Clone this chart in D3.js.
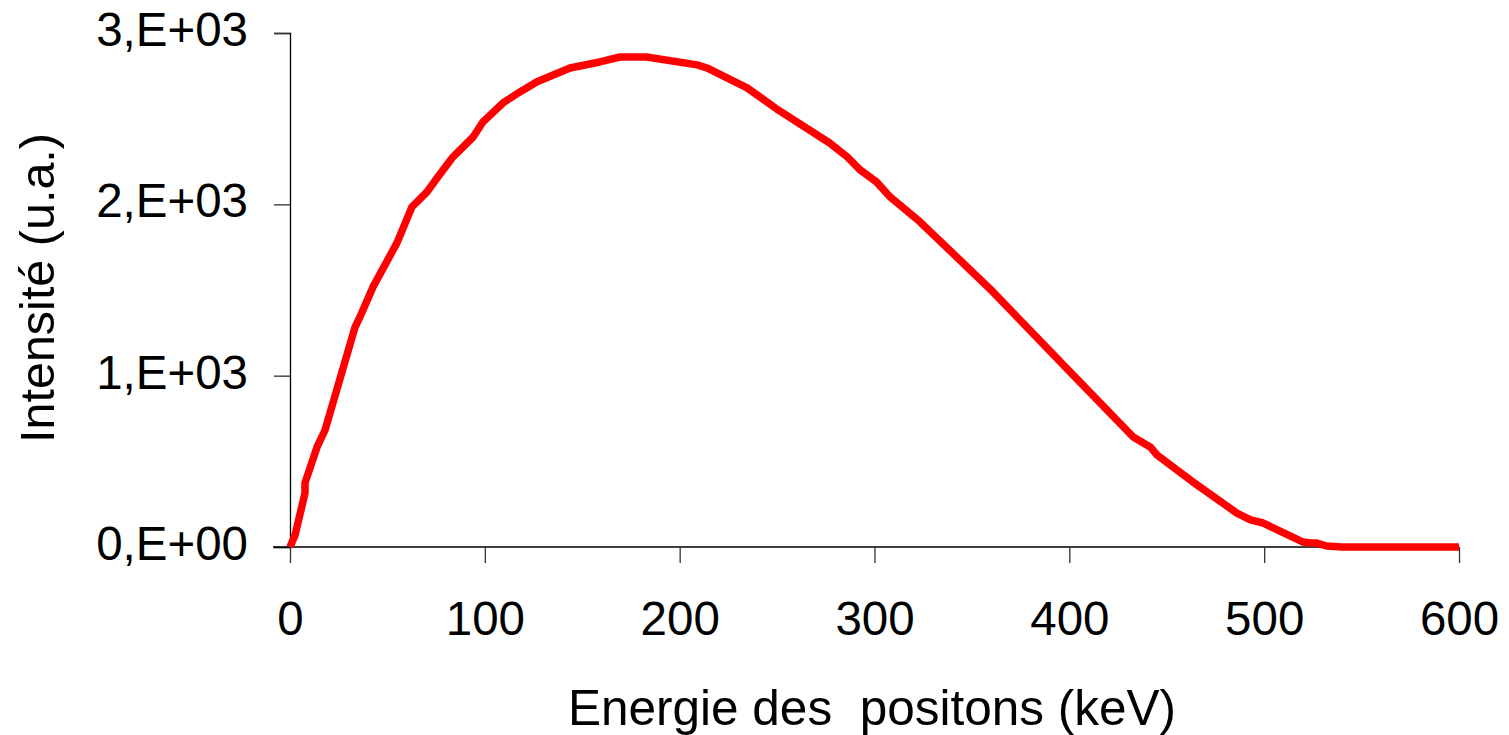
<!DOCTYPE html>
<html>
<head>
<meta charset="utf-8">
<script src="https://cdn.jsdelivr.net/npm/d3@7"></script>
<style>
  body { margin: 0; background: #fff; }
  text { font-family: "Liberation Sans", Arial, sans-serif; fill: #000; }
</style>
</head>
<body>
<div id="chart"></div>
<script>
// positron energy spectrum
var energy = [0, 2.6, 7.7, 7.7, 13.9, 18, 33.4, 35.9, 42.6, 54.9, 62.6, 65.2, 70.3, 75.5, 83.2, 94,
  99, 109.3, 118, 126.8, 143.7, 159, 169.4, 183, 209, 214, 234.6, 250.5, 277, 286, 292.6, 301,
  308, 323.4, 359.3, 400, 432.8, 441.5, 445, 463.5, 486, 493, 499.5, 510, 520, 524, 527, 532, 540, 600];
var intensity = [0, 70, 315, 374, 584, 683, 1284, 1343, 1518, 1775, 1985, 2014, 2072, 2154, 2271, 2393,
  2481, 2592, 2656, 2715, 2796, 2831, 2860, 2860, 2814, 2796, 2680, 2551, 2358, 2277, 2201, 2131,
  2043, 1897, 1506, 1027, 642, 584, 537, 379, 198, 158, 140, 82, 29, 23, 23, 6, 0, 0];

var xTicks = [0, 100, 200, 300, 400, 500, 600];
var yTicks = [0, 1000, 2000, 3000];
var yTickLabels = ["0,E+00", "1,E+03", "2,E+03", "3,E+03"];

var width = 1509,
    height = 735;

var svg = d3.select("#chart").append("svg")
    .attr("width", width)
    .attr("height", height);

var x = d3.scaleLinear().domain([0, 600]).range([290, 1459]);
var y = d3.scaleLinear().domain([0, 3000]).range([547, 33]);

// y axis
var yAxis = svg.append("g")
    .attr("transform", "translate(" + x(0) + ",0)")
    .call(d3.axisLeft(y).tickValues(yTicks).tickSize(16).tickPadding(26)
      .tickFormat(function(d, i) { return yTickLabels[i]; }));

// x axis
var xAxis = svg.append("g")
    .attr("transform", "translate(0," + y(0) + ")")
    .call(d3.axisBottom(x).tickValues(xTicks).tickSize(16).tickPadding(38)
      .tickFormat(d3.format("d")));

svg.selectAll(".domain").attr("stroke", "#000").attr("stroke-width", 1.3);
svg.selectAll(".tick line").attr("stroke", "#333").attr("stroke-width", 1.3);
svg.selectAll(".tick text").attr("font-size", 47.5)
    .attr("font-family", "Liberation Sans, Arial, sans-serif")
    .attr("fill", "#000");
yAxis.selectAll(".tick text").attr("dy", "0.26em");
xAxis.selectAll(".tick text").attr("dy", "0.71em");
// extend x axis line under the y ticks
xAxis.select(".domain").attr("d", "M273,0H" + x(600));

// axis titles
svg.append("text")
    .attr("x", 872)
    .attr("y", 725)
    .attr("text-anchor", "middle")
    .attr("font-size", 49.5)
    .attr("xml:space", "preserve")
    .style("white-space", "pre")
    .text("Energie des  positons (keV)");

svg.append("text")
    .attr("transform", "translate(54,288) rotate(-90)")
    .attr("text-anchor", "middle")
    .attr("font-size", 48.5)
    .text("Intensité (u.a.)");

var points = energy.map(function(e, i) { return {x: e, y: intensity[i]}; });

var lineFunction = d3.line()
    .x(function(d) { return x(d.x); })
    .y(function(d) { return y(d.y); });

svg.append("path")
    .attr("d", lineFunction(points))
    .attr("stroke", "#ff0000")
    .attr("stroke-width", 7.5)
    .attr("stroke-linejoin", "round")
    .attr("fill", "none");
</script>
</body>
</html>
